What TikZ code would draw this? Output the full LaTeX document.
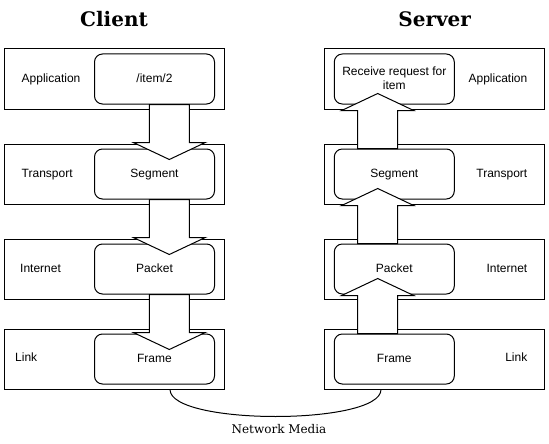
\documentclass[tikz,border=0pt]{standalone}
\usepackage{fontspec}
\setmainfont{Liberation Sans}
\newfontfamily\serifttl{DejaVu Serif}
\usetikzlibrary{calc}
\tikzset{
  layer/.style={draw, line width=1pt, minimum width=220pt, minimum height=60pt, inner sep=0pt},
  pdu/.style={draw, line width=1pt, rounded corners=8pt, minimum width=120pt, minimum height=50pt,
    inner sep=0pt, font=\fontsize{12}{14}\selectfont, text height=8.6pt, text depth=2.5pt},
  lbl/.style={font=\fontsize{12}{14}\selectfont, inner sep=0pt},
  ttl/.style={font=\serifttl\bfseries\fontsize{20}{24}\selectfont, inner sep=0pt},
  medialbl/.style={font=\serifttl\fontsize{12}{14}\selectfont, inner sep=0pt},
  blockarrow/.style={draw, fill=white, line width=1pt, line join=miter},
  medialine/.style={draw, line width=1pt},
}
% #1 tail anchor, #2 x offset of arrow axis, #3 direction (1 down, -1 up)
\newcommand\blockarr[3]{%
  \draw[blockarrow] (#1) ++({#2-20},0) -- ++(0,{(#3)*38}) -- ++(-16,0)
    -- ++(36,{(#3)*17}) -- ++(36,{-(#3)*17}) -- ++(-16,0) -- ++(0,{-(#3)*38}) -- cycle;}
\begin{document}
\begin{tikzpicture}[x=1pt,y=-1pt]
\useasboundingbox (0,0) rectangle (549,444);
% titles
\node[ttl, anchor=base] (tclient) at (114,26.7) {Client};
\node[ttl, anchor=base] (tserver) at (434.7,26.7) {Server};
% client layers
\node[layer] (capp) at (114,79) {};
\node[layer] (ctra) at (114,174) {};
\node[layer] (cint) at (114,269) {};
\node[layer] (clnk) at (114,359) {};
\node[pdu] (cappi) at (154.5,79) {/item/2};
\node[pdu] (ctrai) at (154.5,174) {Segment};
\node[pdu] (cinti) at (154.5,269) {Packet};
\node[pdu] (clnki) at (154.5,359) {Frame};
\node[lbl, anchor=base west] (lcapp) at (21.5,82.3) {Application};
\node[lbl, anchor=base west] (lctra) at (21.5,177) {Transport};
\node[lbl, anchor=base west] (lcint) at (20,272) {Internet};
\node[lbl, anchor=base west] (lclnk) at (15,361.6) {Link};
% server layers
\node[layer] (sapp) at (434.3,79) {};
\node[layer] (stra) at (434.3,174) {};
\node[layer] (sint) at (434.3,269) {};
\node[layer] (slnk) at (434.3,359) {};
\node[pdu] (sappi) at (394.3,79) {};
\node[pdu] (strai) at (394.3,174) {Segment};
\node[pdu] (sinti) at (394.3,269) {Packet};
\node[pdu] (slnki) at (394.3,359) {Frame};
\node[lbl, anchor=base east] (lsapp) at (527.5,82.3) {Application};
\node[lbl, anchor=base east] (lstra) at (527.5,177) {Transport};
\node[lbl, anchor=base east] (lsint) at (527.5,272) {Internet};
\node[lbl, anchor=base east] (lslnk) at (527.5,361.6) {Link};
% arrows
\blockarr{cappi.south}{14.8}{1}
\blockarr{ctrai.south}{14.8}{1}
\blockarr{cinti.south}{14.8}{1}
\blockarr{strai.north}{-16.6}{-1}
\blockarr{sinti.north}{-16.6}{-1}
\blockarr{slnki.north}{-16.6}{-1}
\node[lbl, align=center] (sapptext) at (394.3,78.1) {Receive request for\\item};
% network media
\coordinate (mc) at ([xshift=56pt]clnk.south);
\coordinate (ms) at ([xshift=-53.3pt]slnk.south);
\draw[medialine] (mc) .. controls +(0,36) and +(0,36) .. (ms);
\node[medialbl, anchor=base] (media) at (279,433.3) {Network Media};
\end{tikzpicture}
\end{document}
